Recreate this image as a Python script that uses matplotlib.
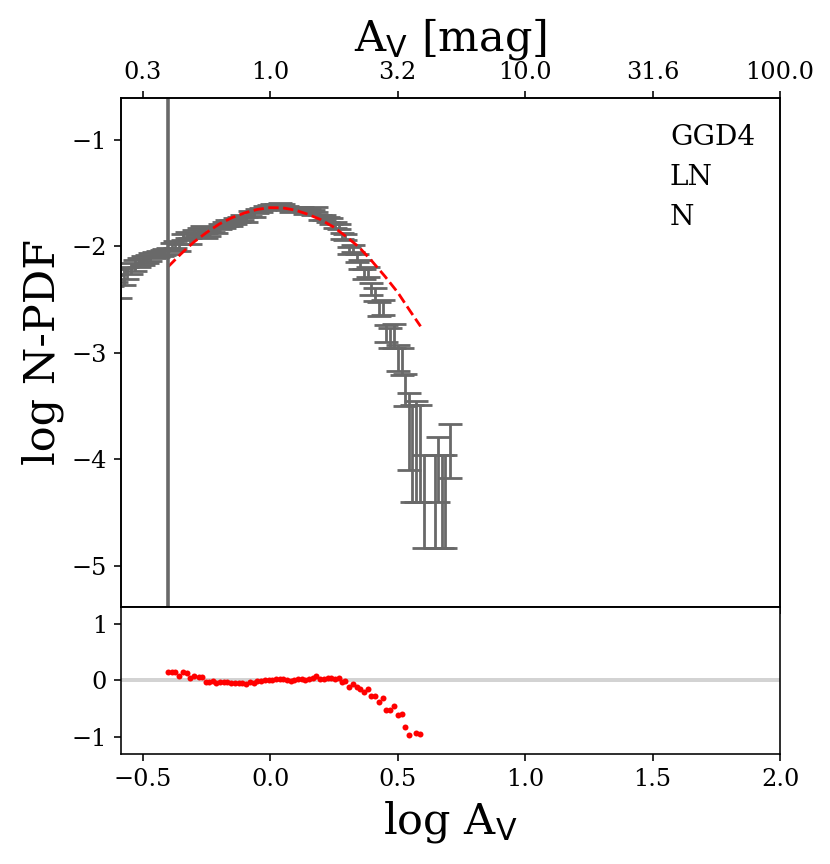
import matplotlib
matplotlib.use("Agg")
import matplotlib.pyplot as plt

plt.rcParams['font.family'] = 'serif'
plt.rcParams['font.serif'] = ['DejaVu Serif']

# N-PDF bins (log Av), bar midpoints and half-spans of the error bars
bin_x = [-0.620, -0.605, -0.590, -0.575, -0.560, -0.545, -0.530, -0.515, -0.500,
         -0.485, -0.470, -0.455, -0.440, -0.425, -0.415,
         -0.401, -0.386, -0.373, -0.356, -0.343, -0.327, -0.313, -0.297, -0.280,
         -0.268, -0.251, -0.238, -0.225, -0.212, -0.196, -0.182, -0.169, -0.153,
         -0.137, -0.124, -0.110, -0.094, -0.081, -0.065, -0.051, -0.035, -0.019,
         -0.006, 0.008, 0.024, 0.037, 0.052, 0.065, 0.080, 0.095, 0.108, 0.124,
         0.138, 0.154, 0.167, 0.180, 0.196, 0.210, 0.226, 0.239, 0.255, 0.269,
         0.282, 0.295, 0.311, 0.324, 0.340, 0.353, 0.370, 0.383, 0.396, 0.412,
         0.426, 0.442, 0.455, 0.471, 0.485, 0.501, 0.517, 0.527,
         0.545, 0.557, 0.573, 0.589, 0.604, 0.648, 0.660, 0.674, 0.685, 0.705]
log_npdf = [-2.32, -2.27, -2.34, -2.28, -2.25, -2.21, -2.18, -2.15, -2.13,
            -2.12, -2.10, -2.08, -2.07, -2.06, -2.05,
            -2.04, -2.00, -1.98, -2.01, -1.91, -1.89, -1.95, -1.88, -1.86,
            -1.84, -1.90, -1.88, -1.84, -1.85, -1.81, -1.80, -1.78, -1.78,
            -1.76, -1.75, -1.73, -1.75, -1.69, -1.70, -1.67, -1.66, -1.64,
            -1.63, -1.62, -1.62, -1.61, -1.62, -1.64, -1.66, -1.65, -1.65, -1.65,
            -1.68, -1.67, -1.68, -1.65, -1.73, -1.73, -1.75, -1.76, -1.80, -1.81,
            -1.90, -1.91, -2.04, -2.02, -2.11, -2.17, -2.26, -2.24, -2.40, -2.45,
            -2.59, -2.57, -2.82, -2.86, -2.84, -3.05, -3.08, -3.35,
            -3.74, -3.945, -3.925, -3.945, -4.395, -4.395, -4.095, -4.395, -4.395, -3.92]
log_npdf_err = [0.05, 0.06, 0.14, 0.08, 0.06, 0.05, 0.05, 0.04, 0.04,
                0.035, 0.035, 0.03, 0.03, 0.03, 0.03,
                0.03, 0.03, 0.03, 0.03, 0.03, 0.03, 0.03, 0.03, 0.03,
                0.03, 0.025, 0.025, 0.025, 0.025, 0.025, 0.025, 0.025, 0.025,
                0.025, 0.025, 0.025, 0.025, 0.025, 0.02, 0.02, 0.02, 0.02,
                0.02, 0.02, 0.02, 0.02, 0.02, 0.02, 0.02, 0.02, 0.02, 0.02,
                0.02, 0.02, 0.025, 0.025, 0.025, 0.025, 0.025, 0.025, 0.025, 0.025,
                0.03, 0.03, 0.035, 0.035, 0.04, 0.045, 0.05, 0.05, 0.055, 0.06,
                0.065, 0.07, 0.08, 0.09, 0.11, 0.12, 0.13, 0.15,
                0.36, 0.455, 0.475, 0.455, 0.435, 0.435, 0.305, 0.435, 0.435, 0.25]

# lognormal fit
fit_x = [-0.40, -0.35, -0.30, -0.25, -0.20, -0.15, -0.10, -0.05, 0.00, 0.05,
         0.10, 0.15, 0.20, 0.25, 0.30, 0.35, 0.40, 0.45, 0.50, 0.55, 0.59]
fit_y = [-2.19, -2.07, -1.96, -1.87, -1.79, -1.73, -1.685, -1.652, -1.636, -1.638,
         -1.66, -1.70, -1.75, -1.82, -1.91, -2.01, -2.14, -2.28, -2.43, -2.61, -2.75]

# residuals (data - fit)
res_x = [-0.401, -0.386, -0.373, -0.356, -0.343, -0.327, -0.313, -0.297, -0.280,
         -0.268, -0.251, -0.238, -0.225, -0.212, -0.196, -0.182, -0.169, -0.153,
         -0.137, -0.124, -0.110, -0.094, -0.081, -0.065, -0.051, -0.035, -0.019,
         -0.006, 0.008, 0.024, 0.037, 0.052, 0.065, 0.080, 0.095, 0.108, 0.124,
         0.138, 0.154, 0.167, 0.180, 0.196, 0.210, 0.226, 0.239, 0.255, 0.269,
         0.282, 0.295, 0.311, 0.324, 0.340, 0.353, 0.370, 0.383, 0.396, 0.412,
         0.426, 0.442, 0.455, 0.471, 0.485, 0.501, 0.517, 0.527, 0.544, 0.573, 0.589]
res_y = [0.149, 0.155, 0.143, 0.077, 0.143, 0.125, 0.036, 0.077, 0.065,
         0.060, -0.024, -0.030, -0.012, -0.042, -0.024, -0.030, -0.024, -0.048,
         -0.042, -0.042, -0.036, -0.065, -0.018, -0.042, -0.012, -0.012, 0.006,
         0.006, 0.012, 0.018, 0.024, 0.018, 0.006, -0.012, 0.006, 0.018, 0.030,
         0.012, 0.030, 0.036, 0.077, 0.018, 0.030, 0.036, 0.042, 0.030, 0.042,
         -0.024, -0.006, -0.107, -0.060, -0.119, -0.149, -0.196, -0.149, -0.268, -0.280,
         -0.381, -0.315, -0.524, -0.518, -0.458, -0.619, -0.589, -0.821, -0.964, -0.935, -0.952]

av_cut = -0.40
top_ticks = [-0.5, 0.0, 0.5, 1.0, 1.5, 2.0]
labels_txt = ['GGD4', 'LN', 'N']

fig = plt.figure(figsize=(830 / 144, 864 / 144), dpi=144)
ax = fig.add_axes([0.1458, 0.2975, 0.794, 0.5891])
axr = fig.add_axes([0.1458, 0.1273, 0.794, 0.1702], sharex=ax)

ax.errorbar(bin_x, log_npdf, yerr=log_npdf_err, fmt='none', ecolor='dimgray',
            elinewidth=1.4, capsize=5.8, capthick=1.4)
ax.plot(fit_x, fit_y, '--', color='red', lw=1.4)
ax.axvline(av_cut, color='dimgray', lw=1.8)

ax.set_xlim(-0.585, 2.0)
ax.set_ylim(-5.385, -0.606)
ax.set_yticks([-5, -4, -3, -2, -1])
ax.set_ylabel('log N-PDF', fontsize=21.5)
ax.tick_params(labelbottom=False, labelsize=12)

for i, t in enumerate(labels_txt):
    ax.text(0.833, 0.9077 - i * 0.0786, t, transform=ax.transAxes,
            fontsize=14, va='baseline')

axt = ax.twiny()
axt.set_xlim(ax.get_xlim())
axt.set_xticks(top_ticks)
axt.set_xticklabels(['%.1f' % (10 ** t) for t in top_ticks])
axt.tick_params(labelsize=12)
axt.set_xlabel(r'A$_\mathrm{V}$ [mag]', fontsize=21.5, labelpad=5)

axr.axhline(0, color='lightgray', lw=2)
axr.plot(res_x, res_y, 'o', color='red', ms=3, mew=0)
axr.set_ylim(-1.3, 1.3)
axr.set_yticks([-1, 0, 1])
axr.set_xticks(top_ticks)
axr.tick_params(labelsize=12)
axr.set_xlabel(r'log A$_\mathrm{V}$', fontsize=21.5)

fig.savefig('out.png', dpi=144)
